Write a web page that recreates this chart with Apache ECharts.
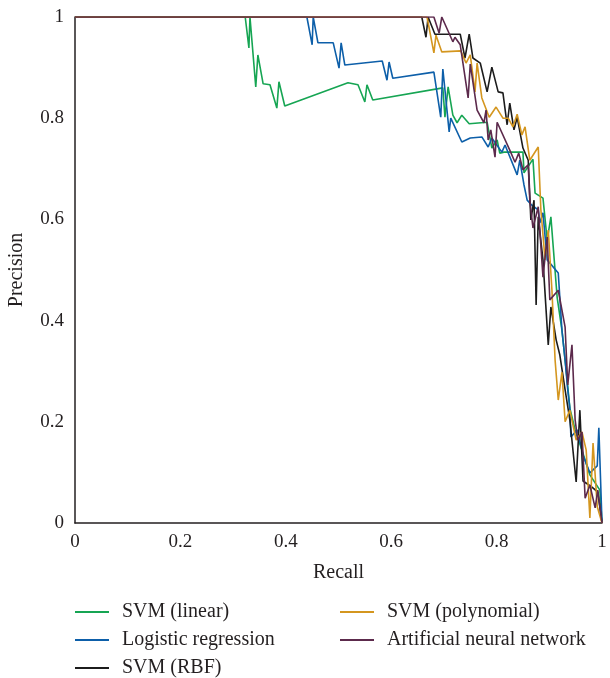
<!DOCTYPE html>
<html>
<head>
<meta charset="utf-8">
<script src="https://cdn.jsdelivr.net/npm/echarts@6/dist/echarts.min.js"></script>
<style>html,body{margin:0;padding:0;background:#fff}#c{width:610px;height:678px}</style>
</head>
<body>
<div id="c"></div>
<script>
const seriesNames = ['SVM (linear)', 'Logistic regression', 'SVM (RBF)', 'SVM (polynomial)', 'Artificial neural network'];
const seriesColors = ['#16a553', '#0d5fa9', '#1c1c1c', '#d4961f', '#5c2a4c'];

const svmLinear = [[0,1],[0.323,1],[0.330,0.939],[0.332,1],[0.343,0.862],[0.347,0.925],[0.357,0.868],[0.370,0.866],[0.383,0.820],[0.387,0.872],[0.398,0.824],[0.518,0.870],[0.537,0.866],[0.550,0.832],[0.554,0.866],[0.565,0.836],[0.698,0.860],[0.702,0.802],[0.708,0.862],[0.717,0.806],[0.725,0.791],[0.734,0.806],[0.748,0.789],[0.782,0.792],[0.791,0.741],[0.801,0.757],[0.806,0.731],[0.814,0.733],[0.850,0.733],[0.852,0.692],[0.869,0.719],[0.873,0.652],[0.888,0.642],[0.896,0.559],[0.903,0.605],[0.915,0.445],[0.924,0.381],[0.932,0.302],[0.939,0.227],[0.949,0.184],[0.962,0.144],[0.977,0.095],[0.996,0.065],[1,0]];

const logistic = [[0,1],[0.440,1],[0.450,0.945],[0.452,1],[0.461,0.949],[0.490,0.949],[0.501,0.899],[0.505,0.949],[0.512,0.905],[0.583,0.913],[0.592,0.875],[0.596,0.911],[0.603,0.879],[0.681,0.891],[0.694,0.802],[0.698,0.897],[0.710,0.773],[0.713,0.800],[0.734,0.753],[0.750,0.761],[0.772,0.763],[0.784,0.743],[0.791,0.761],[0.810,0.733],[0.816,0.747],[0.839,0.688],[0.844,0.717],[0.852,0.668],[0.858,0.638],[0.867,0.628],[0.879,0.619],[0.882,0.593],[0.888,0.613],[0.896,0.520],[0.917,0.494],[0.920,0.445],[0.924,0.381],[0.930,0.322],[0.935,0.263],[0.939,0.227],[0.941,0.170],[0.953,0.184],[0.964,0.134],[0.977,0.099],[0.991,0.113],[0.994,0.188],[1,0]];

const svmRbf = [[0,1],[0.658,1],[0.666,0.960],[0.670,1],[0.683,0.966],[0.731,0.966],[0.740,0.919],[0.748,0.966],[0.755,0.919],[0.769,0.909],[0.782,0.852],[0.791,0.901],[0.803,0.852],[0.812,0.850],[0.820,0.787],[0.825,0.830],[0.833,0.777],[0.839,0.802],[0.850,0.741],[0.860,0.717],[0.865,0.599],[0.871,0.638],[0.875,0.431],[0.879,0.605],[0.888,0.520],[0.898,0.352],[0.903,0.427],[0.913,0.362],[0.920,0.332],[0.930,0.263],[0.939,0.204],[0.951,0.081],[0.958,0.223],[0.964,0.083],[0.981,0.071],[0.992,0.061],[1,0]];

const svmPoly = [[0,1],[0.668,1],[0.681,0.929],[0.685,0.964],[0.696,0.931],[0.732,0.933],[0.742,0.909],[0.750,0.925],[0.759,0.852],[0.763,0.909],[0.772,0.840],[0.786,0.802],[0.799,0.822],[0.812,0.800],[0.822,0.800],[0.831,0.783],[0.839,0.808],[0.848,0.767],[0.854,0.783],[0.863,0.717],[0.879,0.743],[0.884,0.619],[0.892,0.520],[0.898,0.579],[0.905,0.460],[0.911,0.322],[0.917,0.243],[0.924,0.298],[0.930,0.200],[0.939,0.223],[0.951,0.164],[0.962,0.180],[0.970,0.144],[0.977,0.010],[0.983,0.158],[0.991,0.032],[1,0]];

const ann = [[0,1],[0.681,1],[0.691,0.968],[0.696,1],[0.717,0.951],[0.721,0.960],[0.731,0.945],[0.746,0.840],[0.750,0.907],[0.763,0.816],[0.776,0.791],[0.780,0.816],[0.784,0.757],[0.789,0.777],[0.797,0.723],[0.801,0.792],[0.825,0.737],[0.835,0.713],[0.842,0.731],[0.850,0.698],[0.860,0.708],[0.863,0.638],[0.869,0.583],[0.879,0.625],[0.888,0.486],[0.896,0.565],[0.901,0.441],[0.917,0.460],[0.930,0.387],[0.935,0.273],[0.943,0.352],[0.949,0.204],[0.954,0.164],[0.962,0.180],[0.968,0.049],[0.977,0.075],[0.987,0.030],[0.992,0.065],[1,0]];

const allData = [svmLinear, logistic, svmRbf, svmPoly, ann];

const FONT = "'Liberation Serif', 'DejaVu Serif', serif";
const chart = echarts.init(document.getElementById('c'), null, {renderer: 'canvas'});

const fmt = v => (v === 0 ? '0' : v === 1 ? '1' : String(Math.round(v * 10) / 10));

const legendCommon = {
  orient: 'vertical',
  padding: 0,
  height: 76,
  itemWidth: 34,
  itemHeight: 14,
  itemGap: 8,
  icon: 'path://M0,6 L34,6 L34,8 L0,8 Z',
  textStyle: {fontFamily: FONT, fontSize: 20, color: '#231f20', padding: [0, 0, 0, 8], lineHeight: 18}
};

chart.setOption({
  animation: false,
  backgroundColor: '#fff',
  color: seriesColors,
  grid: {left: 75, right: 8, top: 17, bottom: 155, containLabel: false, outerBoundsMode: 'none'},
  legend: [
    Object.assign({}, legendCommon, {left: 75, top: 602, data: seriesNames.slice(0, 3)}),
    Object.assign({}, legendCommon, {left: 340, top: 602, data: seriesNames.slice(3)})
  ],
  xAxis: {
    type: 'value', min: 0, max: 1, interval: 0.2,
    name: 'Recall', nameLocation: 'middle', nameGap: 40,
    nameTextStyle: {fontFamily: FONT, fontSize: 20, color: '#231f20'},
    axisLine: {show: true, lineStyle: {color: '#231f20', width: 1.5}},
    axisTick: {show: false},
    splitLine: {show: false},
    axisLabel: {fontFamily: FONT, fontSize: 19, color: '#231f20', margin: 10, formatter: fmt}
  },
  yAxis: {
    type: 'value', min: 0, max: 1, interval: 0.2,
    name: 'Precision', nameLocation: 'middle', nameGap: 48, nameRotate: 90,
    nameTextStyle: {fontFamily: FONT, fontSize: 20, color: '#231f20'},
    axisLine: {show: true, lineStyle: {color: '#231f20', width: 1.5}},
    axisTick: {show: false},
    splitLine: {show: false},
    axisLabel: {fontFamily: FONT, fontSize: 19, color: '#231f20', margin: 11, formatter: fmt}
  },
  series: seriesNames.map((n, i) => ({
    name: n, type: 'line', data: allData[i], symbol: 'none', showSymbol: false,
    lineStyle: {width: 1.6, color: seriesColors[i]}, itemStyle: {color: seriesColors[i]}
  }))
});
</script>
</body>
</html>
